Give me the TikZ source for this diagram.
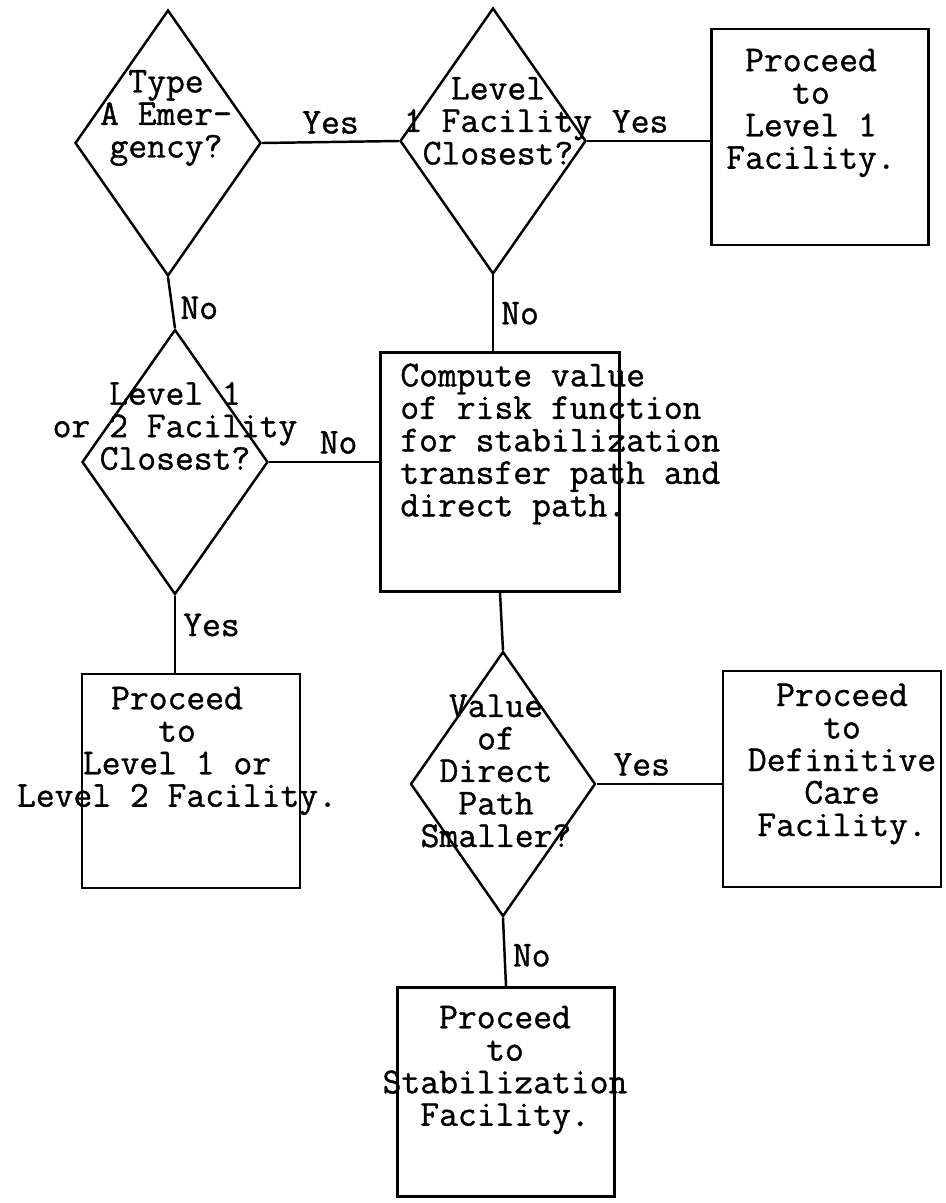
\documentclass[tikz,border=0pt]{standalone}
\usepackage{fontspec}
\newfontfamily\typewriter[FakeBold=1]{Latin Modern Mono}
\usetikzlibrary{shapes,calc}
\tikzstyle{decision}=[diamond,
                      draw,
                      line width=1.4pt,
                      inner sep=0pt,
                      minimum width=3.72cm,
                      minimum height=5.32cm]
\tikzstyle{action}=[rectangle,
                    draw,
                    line width=1.4pt,
                    inner sep=0pt,
                    minimum width=4.34cm,
                    minimum height=4.3cm]
\tikzstyle{txt}=[font=\typewriter\fontsize{20.8}{18.5}\selectfont,
                 align=center,
                 inner sep=0pt]
\tikzstyle{answer}=[font=\typewriter\fontsize{20.8}{18.5}\selectfont,
                    inner sep=4pt]

\begin{document}
\begin{tikzpicture}[x=0.02cm, y=-0.02cm]
    \useasboundingbox (0,0) rectangle (946,1203);
    % decisions
    \node[decision] (emerg) at (168,143) {};
    \node[decision] (lone) at (493,141) {};
    \node[decision, minimum height=5.3cm] (ltwo) at (175,462) {};
    \node[decision, minimum height=5.3cm, minimum width=3.7cm] (direct) at (503,784) {};
    \node[txt] (emergtxt) at (166,118) {Type\\A Emer-\\gency?};
    \node[txt] (lonetxt) at (498,121) {Level\\1 Facility\\Closest?};
    \node[txt] (ltwotxt) at (175,426) {Level 1\\or 2 Facility\\Closest?};
    \node[txt] (directtxt) at (496,771) {Value\\of\\Direct\\Path\\Smaller?};
    % actions
    \node[action, minimum height=4.32cm] (golone) at (820,137) {};
    \node[action, minimum width=4.78cm, minimum height=4.78cm] (risk) at (500,472) {};
    \node[action, minimum width=4.36cm, minimum height=4.28cm] (goltwo) at (191,781) {};
    \node[action, minimum width=4.36cm, minimum height=4.32cm] (godef) at (832,779) {};
    \node[action, minimum height=4.18cm] (gostab) at (506,1092) {};
    \node[txt] (golonetxt) at (811,113) {Proceed\\to\\Level 1\\Facility.};
    \node[txt, align=left, anchor=west] (risktxt) at (400,444) {Compute value\\of risk function\\for stabilization\\transfer path and\\direct path.};
    \node[txt] (goltwotxt) at (177,751) {Proceed\\to\\Level 1 or\\Level 2 Facility.};
    \node[txt] (godeftxt) at (842,764) {Proceed\\to\\Definitive\\Care\\Facility.};
    \node[txt] (gostabtxt) at (505,1070) {Proceed\\to\\Stabilization\\Facility.};
    % connectors
    \path[line width=1.4pt]
    (emerg.east) edge node[answer, above] (yesa) {Yes} (lone.west)
    (lone.east) edge node[answer, above, pos=0.43] (yesb) {Yes} (lone.east -| golone.west)
    (emerg.south) edge node[answer, right, pos=0.6] (noa) {No} (ltwo.north)
    (lone.south) edge node[answer, right, pos=0.5] (nob) {No} (lone.south |- risk.north)
    (ltwo.east) edge node[answer, above, pos=0.63] (noc) {No} (ltwo.east -| risk.west)
    (ltwo.south) edge node[answer, right, pos=0.38] (yesc) {Yes} (ltwo.south |- goltwo.north)
    (risk.south) edge (direct.north)
    (direct.east) edge node[answer, above, pos=0.36] (yesd) {Yes} (direct.east -| godef.west)
    (direct.south) edge node[answer, right, pos=0.55] (nod) {No} (gostab.north);
\end{tikzpicture}
\end{document}
